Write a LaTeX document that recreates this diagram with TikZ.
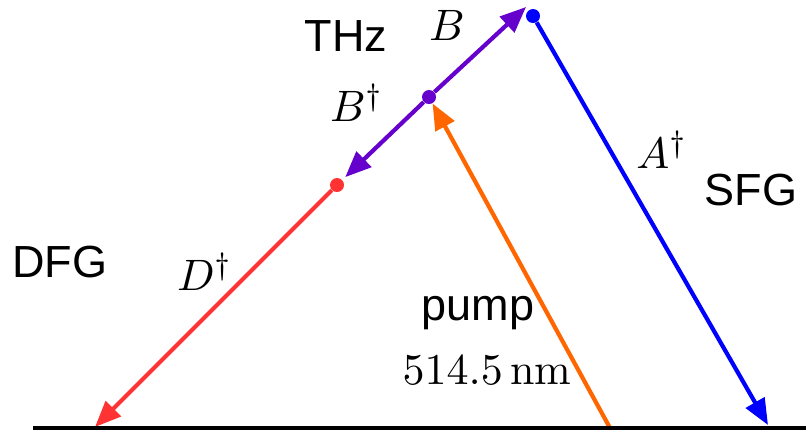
\documentclass[tikz,border=0pt]{standalone}
\usepackage{fontspec}
\newfontfamily\arialf{Liberation Sans}
\usetikzlibrary{arrows.meta}
\definecolor{cblue}{RGB}{0,0,255}
\definecolor{cpurple}{RGB}{102,0,204}
\definecolor{corange}{RGB}{255,102,0}
\definecolor{cred}{RGB}{255,51,51}
\tikzset{
  beam/.style={line width=2.1pt,-{Triangle[length=13pt,width=10.5pt]}},
  dot/.style={circle,fill=#1,inner sep=0pt,minimum size=7pt},
  sflabel/.style={font=\arialf\fontsize{22.5}{26}\selectfont,inner sep=0pt},
  mlabel/.style={scale=2.2,inner sep=0pt}
}
\begin{document}
\begin{tikzpicture}[x=0.5pt,y=-0.5pt]
\useasboundingbox (0,0) rectangle (806,430);
% dots
\node[dot=cblue] (bdot) at (533,16) {};
\node[dot=cpurple] (pdot) at (429,97) {};
\node[dot=cred] (rdot) at (337,185) {};
% free ends
\coordinate (bl) at (33,428);
\coordinate (br) at (806,428);
\coordinate (atip) at (768,425);
\coordinate (dtip) at (95,427);
\coordinate (btip) at (526,7);
\coordinate (pump) at (610,428);
% beams
\draw[beam,cblue] (bdot) -- (atip);
\draw[beam,cred] (rdot) -- (dtip);
\draw[beam,cpurple] (pdot) -- (btip);
\draw[beam,cpurple,shorten >=2pt] (pdot) -- (rdot);
\draw[beam,corange] (pump) -- (pdot);
\draw[line width=1.6pt] (bl) -- (br);
% labels
\node[sflabel] (thz) at (346,36) {THz};
\node[sflabel] (sfg) at (751,190) {SFG};
\node[sflabel] (dfg) at (60,262) {DFG};
\node[sflabel] (pl) at (478,313) {pump};
\node[mlabel] (bl1) at (447,25) {$B$};
\node[mlabel] (bl2) at (357,103) {$B^\dagger$};
\node[mlabel] (al) at (662,150) {$A^\dagger$};
\node[mlabel] (dl) at (205,272) {$D^\dagger$};
\node[mlabel] (nm) at (487,370) {$514.5\,\mathrm{nm}$};
\end{tikzpicture}
\end{document}
